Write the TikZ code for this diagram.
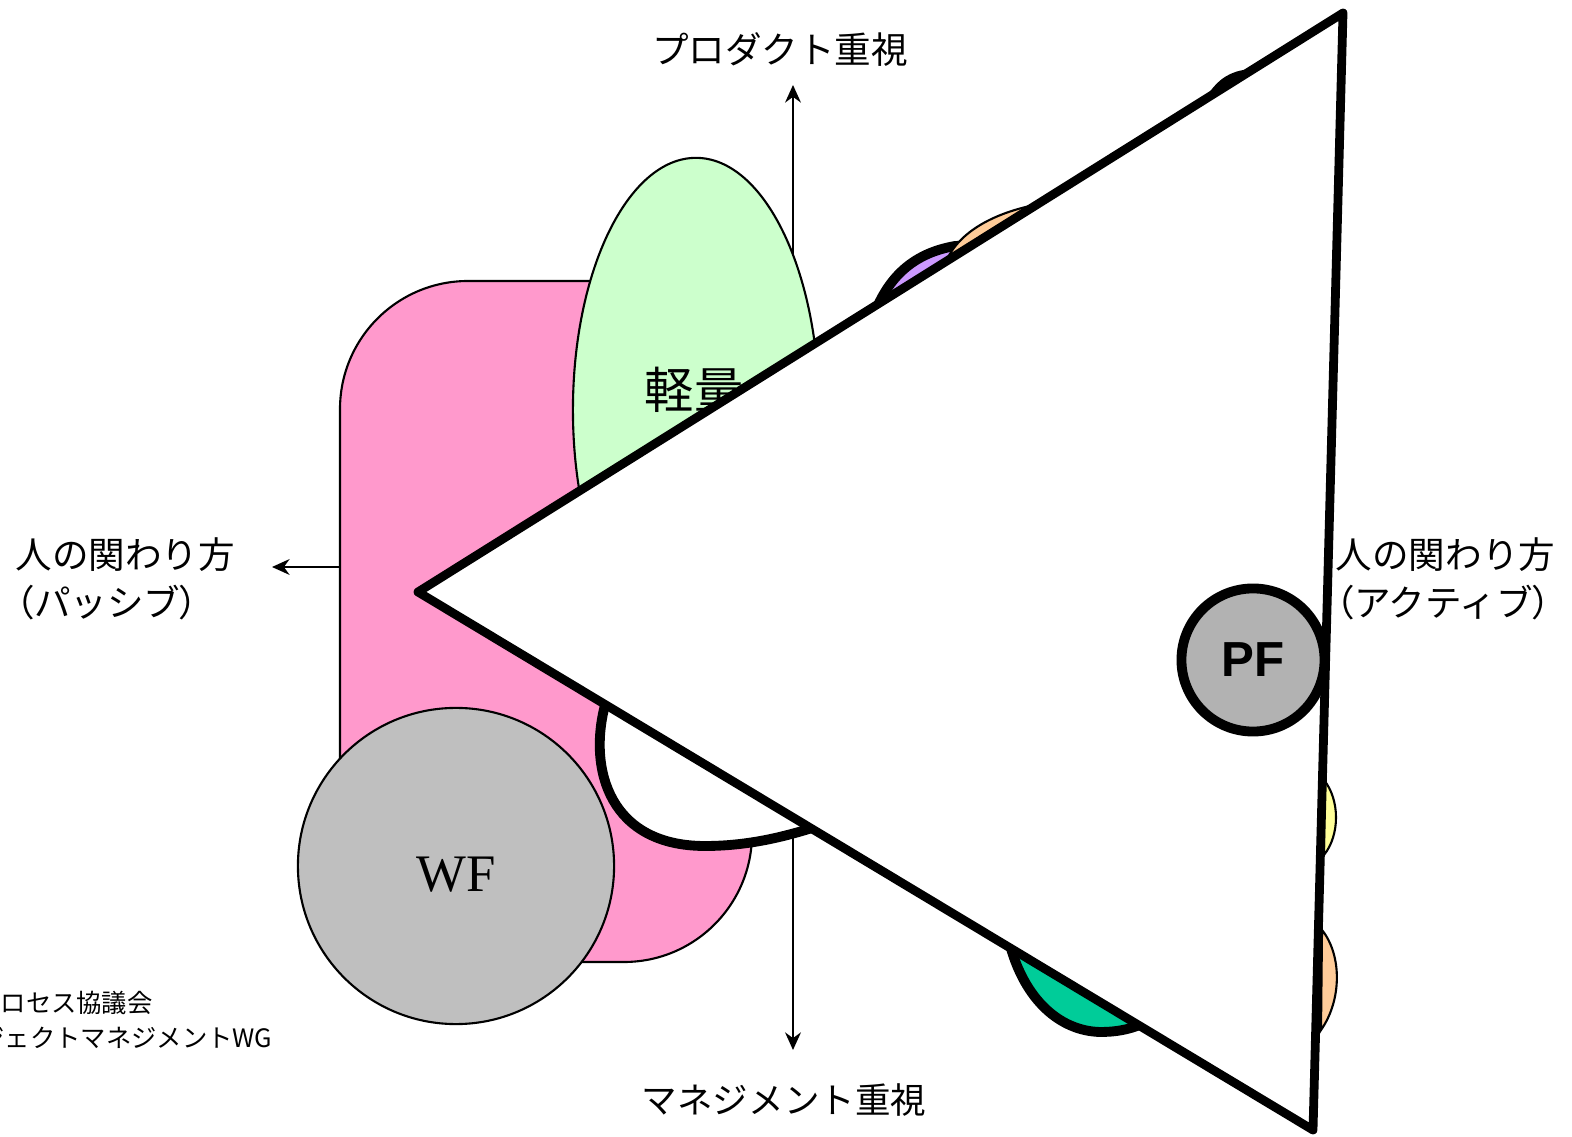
\documentclass[tikz,border=0pt]{standalone}
\usepackage{fontspec}
\setmainfont{Liberation Serif}
\newfontfamily\jpfont{Noto Sans CJK JP}
\newfontfamily\jpprop[RawFeature=+palt]{Noto Sans CJK JP}
\newfontfamily\pffont{Liberation Sans}
\usetikzlibrary{arrows.meta, positioning}

\definecolor{pinkbox}{HTML}{FF99CC}
\definecolor{lightgreen}{HTML}{CCFFCC}
\definecolor{lilac}{HTML}{CC99FF}
\definecolor{peach}{HTML}{FFCC99}
\definecolor{teal2}{HTML}{00CC99}
\definecolor{paleyellow}{HTML}{FFFF99}

\begin{document}
\begin{tikzpicture}[x=0.01cm, y=-0.01cm,
  axis/.style={line width=0.6pt, -{Stealth[length=5pt, width=4.5pt]}},
  lbl/.style={font=\jpfont\fontsize{10.4pt}{13.6pt}\selectfont, inner sep=0pt, align=left},
  blob/.style={line width=2.8pt, line join=round},
  sliver/.style={line width=0.6pt}]
\useasboundingbox (0,0) rectangle (1572,1137);
% axes
\coordinate (ctr) at (793,567);
\coordinate (up) at (793,85);
\coordinate (down) at (793,1050);
\coordinate (left) at (272,567);
\coordinate (right) at (1320,567);
\draw[axis] (ctr) -- (up);
\draw[axis] (ctr) -- (down);
\draw[axis] (ctr) -- (left);
\draw[axis] (ctr) -- (right);
% pink box
\draw[line width=0.6pt, fill=pinkbox, rounded corners=1.28cm] (340,281) rectangle (752,962);
% light green ellipse
\draw[line width=0.6pt, fill=lightgreen] (696,410) ellipse [x radius=1.23cm, y radius=2.52cm];
\node[font=\jpfont\fontsize{14pt}{14pt}\selectfont, inner sep=0pt] (keiryo) at (694,390) {軽量};
% WF
\node[circle, draw, line width=0.6pt, fill=black!25, minimum size=3.16cm, inner sep=0pt,
  font=\fontsize{15pt}{15pt}\selectfont] (wf) at (456,866) {\raisebox{-0.09cm}[\height][\depth]{WF}};
% half hidden shapes
\draw[blob, fill=white] (605,705) .. controls (588,770) and (610,846) .. (705,846)
  .. controls (745,846) and (780,838) .. (812,828) -- (760,720) -- cycle;
\draw[blob, fill=teal2] (1010,945) .. controls (1025,1000) and (1060,1031) .. (1100,1032)
  .. controls (1115,1032) and (1128,1030) .. (1142,1024) -- (1100,950) -- cycle;
\draw[blob, fill=lilac] (875,312) .. controls (890,275) and (915,253) .. (955,246)
  -- (985,245) -- (990,300) -- cycle;
\draw[sliver, fill=peach] (946,262) .. controls (958,232) and (995,212) .. (1040,204)
  -- (1060,260) -- cycle;
\draw[blob, fill=white] (1210,100) .. controls (1222,82) and (1232,76) .. (1250,74)
  -- (1262,92) -- cycle;
\draw[sliver, fill=paleyellow] (1324,780) .. controls (1340,800) and (1340,835) .. (1324,855) -- cycle;
\draw[sliver, fill=peach] (1322,930) .. controls (1342,955) and (1342,1000) .. (1321,1030) -- cycle;
% big triangle
\draw[line width=2.5pt, fill=white, line join=round] (418,592) -- (1343,13) -- (1313,1130) -- cycle;
% PF
\node[circle, draw, line width=2.8pt, fill=black!30, minimum size=1.43cm, inner sep=0pt,
  font=\pffont\bfseries\fontsize{14pt}{14pt}\selectfont] (pf) at (1253,660) {PF};
% labels
\node[lbl] (product) at (780,50) {プロダクト重視};
\node[lbl, font=\jpfont\fontsize{10.1pt}{13.6pt}\selectfont] (manage) at (784,1100) {マネジメント重視};
\node[lbl, anchor=west] (passive) at (15,579) {人の関わり方\\{\jpprop（}パッシブ{\jpprop）}};
\node[lbl, anchor=west] (active) at (1335,579) {人の関わり方\\{\jpprop（}アクティブ{\jpprop）}};
\node[font=\jpfont\fontsize{7.2pt}{7.2pt}\selectfont, inner sep=0pt, anchor=west] (org1) at (0,1003) {ロセス協議会};
\node[font=\jpfont\fontsize{7.2pt}{7.2pt}\selectfont, inner sep=0pt, anchor=east] (org2) at (273,1038) {ジェクトマネジメントWG};
\end{tikzpicture}
\end{document}
